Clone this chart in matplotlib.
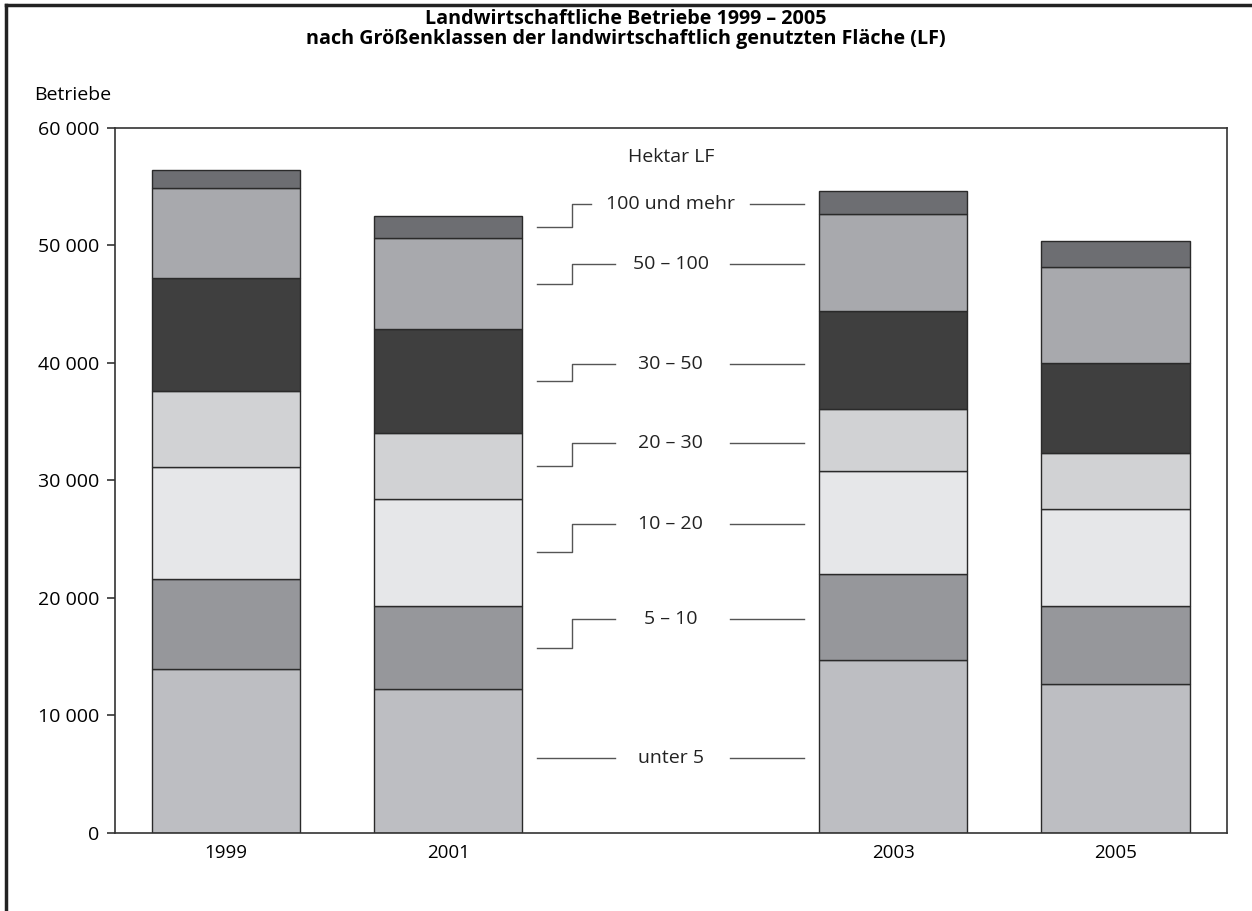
import numpy as np
import matplotlib
matplotlib.use('Agg')
import matplotlib.pyplot as plt
from matplotlib.ticker import FuncFormatter

plt.rcParams['font.family'] = ['Open Sans', 'DejaVu Sans']

years = ['1999', '2001', '2003', '2005']
x_pos = [0, 1, 3, 4]   # slot 2 stays free for the class labels

classes = ['unter 5', '5 – 10', '10 – 20', '20 – 30', '30 – 50', '50 – 100', '100 und mehr']
colors = ['#bdbec2', '#96979b', '#e6e7e9', '#d1d2d4', '#3f3f3f', '#a8a9ad', '#6d6e72']

# Betriebe je Größenklasse, Reihenfolge wie classes
v1999 = [13920, 7680, 9500, 6520, 9580, 7660, 1530]
v2001 = [12220, 7110, 9100, 5590, 8840, 7750, 1870]
v2003 = [14740, 7290, 8790, 5270, 8330, 8200, 1950]
v2005 = [12700, 6630, 8230, 4730, 7710, 8110, 2270]

# vertical position of the class labels in the middle column
label_y = [6380, 18200, 26310, 33200, 39930, 48390, 53500]

data = np.array([v1999, v2001, v2003, v2005])

fig = plt.figure(figsize=(12.52, 9.11), dpi=100)
ax = fig.add_axes([0.0916, 0.0856, 0.8882, 0.7744])

width = 0.667
bottom = np.zeros(len(years))
for i, cls in enumerate(classes):
    ax.bar(x_pos, data[:, i], width, bottom=bottom, color=colors[i],
           edgecolor='#2a2a2a', linewidth=1.0, zorder=2)
    bottom += data[:, i]

ax.set_xlim(-0.5, 4.5)
ax.set_ylim(0, 60000)

# class labels with connector lines (2001 bar -> label -> 2003 bar)
bot01 = np.concatenate([[0], np.cumsum(v2001)[:-1]])
mid01 = bot01 + np.array(v2001) / 2
fig.canvas.draw()
renderer = fig.canvas.get_renderer()
inv = ax.transData.inverted()
gap = 15
for i, cls in enumerate(classes):
    ly = label_y[i]
    t = ax.text(2, ly, cls, ha='center', va='center', fontsize=14, color='#222222')
    bb = t.get_window_extent(renderer)
    xl = inv.transform((bb.x0 - gap, 0))[0]
    xr = inv.transform((bb.x1 + gap, 0))[0]
    left_end = min(1.748, xl)
    right_start = max(2.266, xr)
    if i == 0:
        ax.plot([1.40, left_end], [ly, ly], color='#555555', lw=1.0)
    else:
        ax.plot([1.40, 1.554, 1.554, left_end], [mid01[i], mid01[i], ly, ly],
                color='#555555', lw=1.0)
    ax.plot([right_start, 2.599], [ly, ly], color='#555555', lw=1.0)

ax.text(2, 57490, 'Hektar LF', ha='center', va='center', fontsize=14, color='#222222')

ax.set_xticks(x_pos)
ax.set_xticklabels(years)
ax.set_yticks(range(0, 60001, 10000))
ax.yaxis.set_major_formatter(FuncFormatter(lambda v, p: f'{int(v):,}'.replace(',', ' ')))
ax.tick_params(axis='y', length=6, width=1.2, labelsize=14, pad=5, color='#333333')
ax.tick_params(axis='x', length=0, labelsize=13.5, pad=8)
for s in ax.spines.values():
    s.set_linewidth(1.2)
    s.set_color('#333333')

fig.text(34 / 1252, 1 - 95 / 911, 'Betriebe', fontsize=14, va='center', ha='left')
fig.text(0.5, 1 - 19 / 911, 'Landwirtschaftliche Betriebe 1999 – 2005', fontsize=14.2,
         fontweight='bold', ha='center', va='center')
fig.text(0.5, 1 - 39 / 911, 'nach Größenklassen der landwirtschaftlich genutzten Fläche (LF)',
         fontsize=14.2, fontweight='bold', ha='center', va='center')

# outer frame lines (top and left)
fig.add_artist(plt.Line2D([6 / 1252, 1], [1 - 5 / 911, 1 - 5 / 911], color='#222222', lw=2.5))
fig.add_artist(plt.Line2D([6 / 1252, 6 / 1252], [0, 1 - 5 / 911], color='#222222', lw=2.5))

fig.savefig('out.png', dpi=100)
